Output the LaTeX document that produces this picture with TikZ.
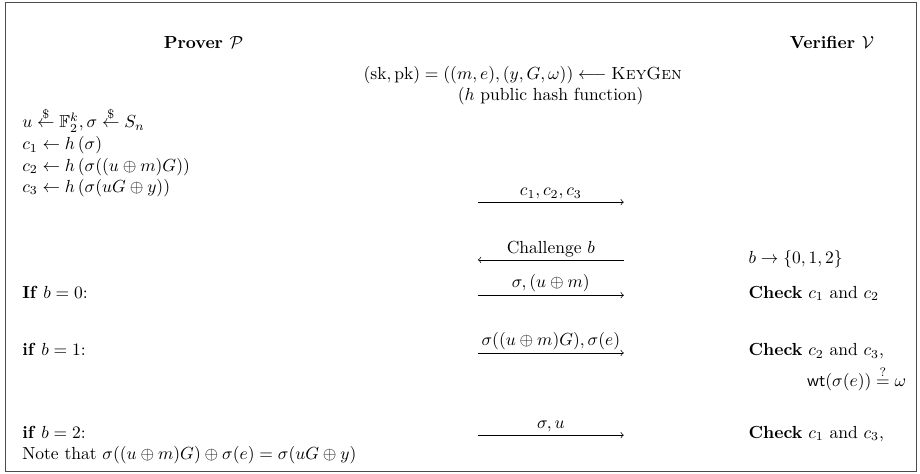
\documentclass[tikz,border=0pt]{standalone}
\usepackage{amsmath}
\usepackage{amssymb}
\usepackage{tikz}
\usetikzlibrary{arrows.meta,positioning,calc}

\begin{document}
\begin{tikzpicture}[
  >=to, line width=0.4pt,
  frame/.style={draw=black!70, line width=0.6pt, inner sep=0pt},
  party/.style={font=\bfseries, anchor=base, inner sep=0pt},
  lefttxt/.style={anchor=base west, inner sep=0pt},
  righttxt/.style={anchor=base west, inner sep=0pt},
  midtxt/.style={anchor=base, inner sep=0pt},
  msgarr/.style={->, line width=0.4pt},
  msglabel/.style={above, inner sep=1.5pt}
]
  \useasboundingbox (0,0) rectangle (18.48,9.52);

  % --- Outer frame ---
  \node[frame, minimum width=18.30cm, minimum height=9.42cm,
        anchor=south west] (box) at (0.10,0.04) {};

  % --- Party headers ---
  \node[party] (prover) at (4.09,8.55) {Prover $\mathcal{P}$};
  \node[party] (verifier) at (16.71,8.55) {Verifier $\mathcal{V}$};

  % --- Public setup (middle column) ---
  \node[midtxt] (keygen) at (10.50,7.93)
       {$(\mathrm{sk},\mathrm{pk}) = ((m,e),(y,G,\omega)) \longleftarrow \textsc{KeyGen}$};
  \node[midtxt] (hashfn) at (11.06,7.51) {($h$ public hash function)};

  % --- Prover: commitments ---
  \node[lefttxt] (sample) at (0.44,6.95)
       {$u \stackrel{\$}{\leftarrow} \mathbb{F}_2^k, \sigma \stackrel{\$}{\leftarrow} S_n$};
  \node[lefttxt] (cone) at (0.44,6.51) {$c_1 \leftarrow h\,(\sigma)$};
  \node[lefttxt] (ctwo) at (0.44,6.08) {$c_2 \leftarrow h\,(\sigma((u \oplus m)G))$};
  \node[lefttxt] (cthree) at (0.44,5.66) {$c_3 \leftarrow h\,(\sigma(uG \oplus y))$};

  % --- Message ends (middle column) ---
  \coordinate (cmtL) at (9.60,5.46);  \coordinate (cmtR) at (12.53,5.46);
  \coordinate (chlL) at (9.60,4.30);  \coordinate (chlR) at (12.53,4.30);
  \coordinate (rzL) at (9.60,3.59);   \coordinate (rzR) at (12.53,3.59);
  \coordinate (roL) at (9.60,2.43);   \coordinate (roR) at (12.53,2.43);
  \coordinate (rtL) at (9.60,0.78);   \coordinate (rtR) at (12.53,0.78);

  % --- Messages ---
  \draw[msgarr] (cmtL) -- node[msglabel] (cmt) {$c_1, c_2, c_3$} (cmtR);
  \draw[msgarr] (chlR) -- node[msglabel] (chl) {Challenge $b$} (chlL);
  \draw[msgarr] (rzL) -- node[msglabel] (rz) {$\sigma, (u \oplus m)$} (rzR);
  \draw[msgarr] (roL) -- node[msglabel] (ro) {$\sigma((u \oplus m)G), \sigma(e)$} (roR);
  \draw[msgarr] (rtL) -- node[msglabel] (rt) {$\sigma, u$} (rtR);

  % --- Verifier: challenge ---
  \node[righttxt] (pick) at (15.03,4.22) {$b \rightarrow \{0,1,2\}$};

  % --- Prover: cases ---
  \node[lefttxt] (ifzero) at (0.44,3.53) {\textbf{If} $b = 0$:};
  \node[lefttxt] (ifone) at (0.44,2.37) {\textbf{if} $b = 1$:};
  \node[lefttxt] (iftwo) at (0.44,0.72) {\textbf{if} $b = 2$:};
  \node[lefttxt] (note) at (0.44,0.29)
       {Note that $\sigma((u \oplus m)G) \oplus \sigma(e) = \sigma(uG \oplus y)$};

  % --- Verifier: checks ---
  \node[righttxt] (chkzero) at (15.03,3.53) {\textbf{Check} $c_1$ and $c_2$};
  \node[righttxt] (chkone) at (15.03,2.37) {\textbf{Check} $c_2$ and $c_3$,};
  \node[anchor=base east, inner sep=0pt] (wtchk) at (18.21,1.76)
       {$\mathsf{wt}(\sigma(e)) \stackrel{?}{=} \omega$};
  \node[righttxt] (chktwo) at (15.03,0.72) {\textbf{Check} $c_1$ and $c_3$,};
\end{tikzpicture}
\end{document}
